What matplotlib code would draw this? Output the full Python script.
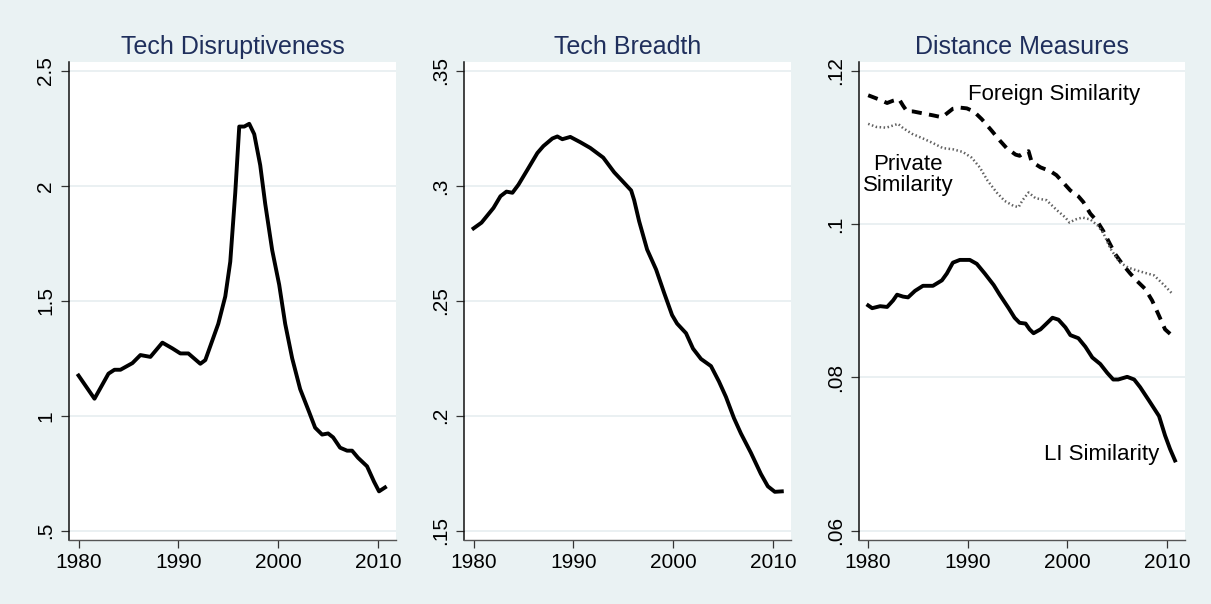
import matplotlib
matplotlib.use("Agg")
import matplotlib.pyplot as plt

# ---------------- data ----------------
disr_years = [1980.0, 1981.6, 1983.0, 1983.6, 1984.2, 1985.4, 1986.2, 1987.2, 1988.4, 1989.4,
              1990.2, 1991.0, 1992.2, 1992.7, 1994.0, 1994.7, 1995.2, 1995.7, 1996.1, 1996.6,
              1997.1, 1997.6, 1998.2, 1998.7, 1999.4, 2000.1, 2000.7, 2001.4, 2002.2, 2003.1,
              2003.7, 2004.4, 2005.0, 2005.5, 2006.2, 2006.9, 2007.4, 2008.0, 2008.9, 2009.6,
              2010.1, 2010.7]
disr_values = [1.175, 1.074, 1.183, 1.200, 1.200, 1.229, 1.264, 1.256, 1.318, 1.293,
               1.271, 1.271, 1.226, 1.242, 1.400, 1.519, 1.670, 1.970, 2.258, 2.258,
               2.270, 2.225, 2.090, 1.922, 1.720, 1.570, 1.400, 1.250, 1.116, 1.016,
               0.948, 0.918, 0.923, 0.906, 0.861, 0.848, 0.848, 0.817, 0.780, 0.713,
               0.671, 0.688]

breadth_years = [1980.0, 1980.8, 1982.0, 1982.7, 1983.3, 1983.9, 1984.5, 1985.4, 1986.4, 1987.0,
                 1987.9, 1988.4, 1988.9, 1989.7, 1990.7, 1991.7, 1993.0, 1994.1, 1994.9, 1995.8,
                 1996.1, 1996.6, 1997.4, 1998.3, 1999.1, 1999.9, 2000.4, 2001.3, 2002.0, 2002.8,
                 2003.8, 2004.6, 2005.3, 2006.1, 2006.8, 2007.8, 2008.8, 2009.5, 2010.2, 2010.9]
breadth_values = [0.2815, 0.2840, 0.2904, 0.2955, 0.2975, 0.2970, 0.3005, 0.3070, 0.3143, 0.3173,
                  0.3206, 0.3215, 0.3203, 0.3213, 0.3190, 0.3165, 0.3123, 0.3059, 0.3022, 0.2980,
                  0.2938, 0.2846, 0.2723, 0.2636, 0.2535, 0.2438, 0.2401, 0.2359, 0.2292, 0.2247,
                  0.2216, 0.2149, 0.2082, 0.1990, 0.1923, 0.1839, 0.1747, 0.1693, 0.1669, 0.1671]

li_years = [1980.0, 1980.4, 1981.2, 1981.9, 1982.5, 1982.9, 1983.5, 1984.0, 1984.7, 1985.5,
            1986.5, 1987.4, 1987.9, 1988.5, 1989.2, 1990.2, 1990.9, 1991.7, 1992.6, 1993.2,
            1994.1, 1994.7, 1995.2, 1995.8, 1996.2, 1996.6, 1997.3, 1997.9, 1998.5, 1999.1,
            1999.8, 2000.3, 2001.1, 2001.8, 2002.5, 2003.3, 2004.0, 2004.6, 2005.1, 2006.0,
            2006.7, 2007.3, 2008.2, 2009.2, 2009.8, 2010.3, 2010.8]
li_values = [0.0894, 0.08904, 0.0893, 0.0892, 0.09005, 0.0908, 0.09055, 0.09045, 0.0913, 0.09196,
             0.09196, 0.09267, 0.09357, 0.09498, 0.09534, 0.09534, 0.09483, 0.09357, 0.09206, 0.0908,
             0.08904, 0.08779, 0.08713, 0.08703, 0.08628, 0.08577, 0.08628, 0.08703, 0.08779, 0.08754,
             0.08653, 0.08552, 0.08512, 0.08401, 0.0826, 0.08175, 0.08059, 0.07973, 0.07973, 0.08008,
             0.07973, 0.07873, 0.07696, 0.07495, 0.07243, 0.07067, 0.06916]

foreign_years = [1980.0, 1981.0, 1981.9, 1982.5, 1983.1, 1983.5, 1983.9, 1984.5, 1985.5, 1986.5,
                 1987.4, 1987.9, 1988.5, 1989.2, 1989.9, 1990.6, 1991.4, 1992.4, 1993.2, 1993.9,
                 1994.8, 1995.2, 1995.5, 1996.1, 1996.4, 1997.3, 1998.3, 1998.9, 1999.6, 2000.3,
                 2001.1, 2001.6, 2002.3, 2003.0, 2003.6, 2004.1, 2004.8, 2005.5, 2006.3, 2007.0,
                 2007.8, 2008.5, 2009.2, 2009.8, 2010.8]
foreign_values = [0.11683, 0.11633, 0.11582, 0.11612, 0.11633, 0.11547, 0.11472, 0.11472, 0.11446, 0.11421,
                  0.11396, 0.11446, 0.11507, 0.11522, 0.11512, 0.11472, 0.11371, 0.11220, 0.11094, 0.10993,
                  0.10908, 0.10893, 0.10918, 0.10953, 0.10817, 0.10742, 0.10691, 0.10640, 0.10540, 0.10440,
                  0.10364, 0.10289, 0.10138, 0.10037, 0.09911, 0.09785, 0.09609, 0.09483, 0.09357, 0.09257,
                  0.09156, 0.09005, 0.08804, 0.08628, 0.08512]

private_years = [1980.0, 1980.8, 1981.8, 1982.3, 1983.0, 1983.5, 1984.4, 1985.5, 1986.5, 1987.5,
                 1988.5, 1989.5, 1990.4, 1991.2, 1992.0, 1992.9, 1993.7, 1994.6, 1995.1, 1995.5,
                 1996.1, 1996.8, 1997.9, 1998.9, 1999.8, 2000.2, 2000.8, 2001.5, 2002.3, 2003.0,
                 2003.6, 2004.3, 2005.2, 2006.1, 2007.3, 2008.7, 2009.7, 2010.5]
private_values = [0.1131, 0.1127, 0.1126, 0.1128, 0.1131, 0.11255, 0.1118, 0.11119, 0.11059, 0.10993,
                  0.10978, 0.10943, 0.10867, 0.10742, 0.10566, 0.10414, 0.10304, 0.10238, 0.10223, 0.10314,
                  0.10414, 0.10339, 0.10314, 0.10188, 0.10087, 0.10022, 0.10062, 0.10087, 0.10062, 0.09987,
                  0.09886, 0.09685, 0.09508, 0.09433, 0.09383, 0.09332, 0.09206, 0.09096]

titles = ["Tech Disruptiveness", "Tech Breadth", "Distance Measures"]
x_ticks = [1980, 1990, 2000, 2010]
y_ticks_1 = [0.5, 1.0, 1.5, 2.0, 2.5]
y_labels_1 = [".5", "1", "1.5", "2", "2.5"]
y_ticks_2 = [0.15, 0.20, 0.25, 0.30, 0.35]
y_labels_2 = [".15", ".2", ".25", ".3", ".35"]
y_ticks_3 = [0.06, 0.08, 0.10, 0.12]
y_labels_3 = [".06", ".08", ".1", ".12"]

# ---------------- style ----------------
plt.rcParams['font.family'] = ['Liberation Sans', 'DejaVu Sans']
BG = "#eaf2f3"
GRID = "#e6eef0"
TITLE_C = "#1f2f5c"

fig = plt.figure(figsize=(12.11, 6.04), dpi=100, facecolor=BG)

bottom, height = 0.106, 0.7914
lefts = [0.0570, 0.3832, 0.7091]
widths = [0.2700, 0.2698, 0.2694]
ylims = [(0.4595, 2.539), (0.14595, 0.3539), (0.058786, 0.121175)]
yticks = [(y_ticks_1, y_labels_1), (y_ticks_2, y_labels_2), (y_ticks_3, y_labels_3)]

axes = []
for i in range(3):
    ax = fig.add_axes([lefts[i], bottom, widths[i], height])
    ax.set_facecolor("white")
    ax.set_xlim(1979.05, 2011.8)
    ax.set_ylim(*ylims[i])
    ax.set_xticks(x_ticks)
    ax.set_xticklabels([str(v) for v in x_ticks])
    ax.set_yticks(yticks[i][0])
    ax.set_yticklabels(yticks[i][1], rotation=90, va="center")
    for yv in yticks[i][0]:
        ax.axhline(yv, color=GRID, lw=1.2, zorder=0)
    ax.spines["top"].set_visible(False)
    ax.spines["right"].set_visible(False)
    ax.spines["left"].set_color("#111111")
    ax.spines["left"].set_linewidth(1.1)
    ax.spines["bottom"].set_color("#555555")
    ax.spines["bottom"].set_linewidth(1.0)
    ax.tick_params(axis="both", length=6, width=0.9, color="#333333",
                   labelsize=15, labelcolor="black")
    ax.tick_params(axis="y", pad=4)
    ax.tick_params(axis="x", pad=3.5)
    ax.set_title(titles[i], fontsize=18, color=TITLE_C, pad=6)
    axes.append(ax)

LW = 2.8
axes[0].plot(disr_years, disr_values, color="black", lw=LW, solid_joinstyle="round")
axes[1].plot(breadth_years, breadth_values, color="black", lw=LW, solid_joinstyle="round")

ax3 = axes[2]
ax3.plot(li_years, li_values, color="black", lw=LW, solid_joinstyle="round")
ax3.plot(foreign_years, foreign_values, color="black", lw=LW, linestyle=(0, (2.6, 1.9)))
ax3.plot(private_years, private_values, color="#606060", lw=1.8, linestyle=(0, (0.6, 1.0)))

ax3.text(1990.0, 0.11698, "Foreign Similarity", fontsize=16, ha="left", va="center")
ax3.text(1984.0, 0.1064, "Private\nSimilarity", fontsize=16, ha="center", va="center",
         linespacing=1.0)
ax3.text(2009.25, 0.0699, "LI Similarity", fontsize=16, ha="right", va="center")

fig.savefig("out.png", dpi=100, facecolor=BG)
